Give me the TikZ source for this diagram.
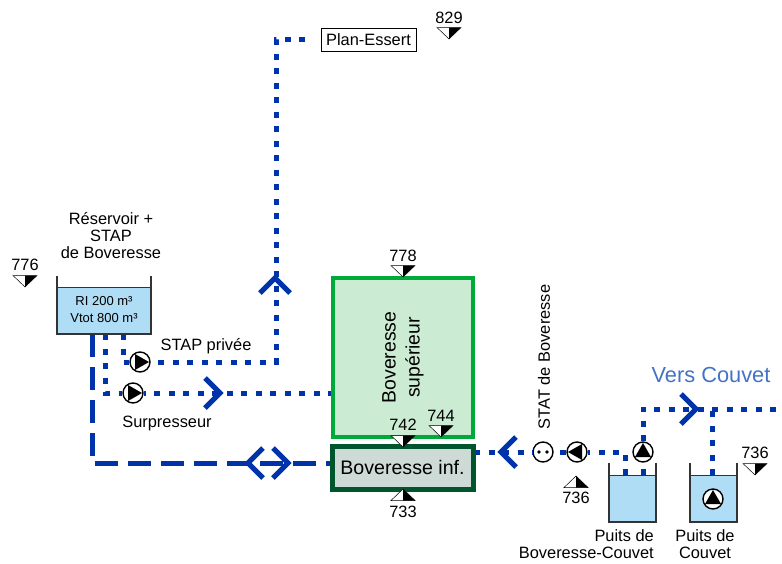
\documentclass[tikz,border=0pt]{standalone}
\usepackage{fontspec}
\setmainfont{Liberation Sans}
\usetikzlibrary{arrows.meta, positioning}
\definecolor{pipeblue}{HTML}{0033AA}
\definecolor{wellblue}{HTML}{AEDDF5}
\definecolor{supgreen}{HTML}{00AA3A}
\definecolor{supfill}{HTML}{CBEBD3}
\definecolor{infgreen}{HTML}{00552F}
\definecolor{inffill}{HTML}{CDDAD5}
\definecolor{versblue}{HTML}{4472C4}
\tikzset{
  textlabel/.style={font=\fontsize{16.4}{17}\selectfont, align=center, inner sep=0pt},
  dotpipe/.style={draw=pipeblue, line width=5pt, dash pattern=on 6pt off 8.5pt},
  dashpipe/.style={draw=pipeblue, line width=5pt, dash pattern=on 23pt off 10pt},
  chevronline/.style={draw=pipeblue, line width=5pt},
  wellline/.style={draw=black!80, line width=1.3pt},
  pumpnode/.style={circle, draw=black, line width=1.4pt, fill=white, minimum size=20pt, inner sep=0pt},
  pics/chevron/.style={code={\draw[chevronline] (-15pt,-15pt) -- (0pt,0pt) -- (-15pt,15pt);}},
  pics/levelmark/.style={code={
    \fill[white, draw=black, line width=.5pt] (-12pt,11.5pt) -- (12pt,11.5pt) -- (0pt,0pt) -- cycle;
    \fill[black] (0pt,11.5pt) -- (12pt,11.5pt) -- (0pt,0pt) -- cycle;}},
  pics/levelup/.style={code={
    \fill[white, draw=black, line width=.5pt] (-12pt,-11.5pt) -- (12pt,-11.5pt) -- (0pt,0pt) -- cycle;
    \fill[black] (0pt,-11.5pt) -- (12pt,-11.5pt) -- (0pt,0pt) -- cycle;}},
}
\begin{document}
\begin{tikzpicture}[x=1pt, y=-1pt]
  \useasboundingbox (0,0) rectangle (782,563);

  \coordinate (resMain) at (92,334);
  \coordinate (resBoost) at (105,334);
  \coordinate (resStap) at (123,334);
  \coordinate (wellA) at (625,475);
  \coordinate (wellB) at (643,475);
  \coordinate (wellC) at (712,475);
  \coordinate (couvetEnd) at (782,409);
  \coordinate (teeC) at (712,409);
  \coordinate (planEnd) at (305,39);
  \coordinate (planTurn) at (276,39);
  \coordinate (stapTurn) at (276,362);
  \coordinate (infIn) at (332,463);
  \coordinate (supIn) at (334,393);
  \coordinate (infOut) at (474,452);

  \node[pumpnode] (pumpStap) at (140,362) {};
  \node[pumpnode] (pumpBoost) at (133,393) {};
  \node[pumpnode] (pumpStat) at (577,452) {};
  \node[pumpnode] (pumpWellA) at (643,452) {};
  \node[pumpnode] (stat) at (543,452) {};

  % pipes
  \draw[dashpipe] (resMain) |- (infIn);
  \draw[dotpipe] (planEnd) -- (planTurn) -- (stapTurn) -- (pumpStap.east);
  \draw[dotpipe] (resStap) |- (pumpStap.west);
  \draw[dotpipe] (resBoost) |- (pumpBoost.west);
  \draw[dotpipe] (supIn) -- (pumpBoost.east);
  \draw[dotpipe] (infOut) -- (stat.west);
  \draw[dotpipe] (pumpStat.west) -- (stat.east);
  \draw[dotpipe] (wellA) |- (pumpStat.east);
  \draw[dotpipe] (wellB) -- (pumpWellA.south);
  \draw[dotpipe] (pumpWellA.north) |- (couvetEnd);
  \draw[dotpipe] (wellC) -- (teeC);

  % basins
  \node[draw=infgreen, line width=5pt, fill=inffill, minimum width=141pt, minimum height=43pt, font=\fontsize{19.6}{22}\selectfont] (inf) at (402.5,467.5) {Boveresse inf.};
  \node[draw=supgreen, line width=4.5pt, fill=supfill, minimum width=140pt, minimum height=159pt] (sup) at (403,357.5) {};
  \node[rotate=90, font=\fontsize{19.4}{24}\selectfont, align=center] (supText) at (sup.center) {Boveresse\\supérieur};
  \node[draw=black, line width=.9pt, minimum width=95pt, minimum height=23pt, font=\fontsize{16.4}{17}\selectfont, inner sep=0pt] (plan) at (368.5,39.5) {Plan-Essert};

  % reservoir and wells
  \fill[wellblue] (57,287) rectangle (151,334);
  \draw[wellline] (57,276) -- (57,334) -- (151,334) -- (151,276);
  \draw[line width=.8pt, black!80] (57,287) -- (151,287);
  \fill[wellblue] (609,475) rectangle (656,522);
  \draw[wellline] (609,463) -- (609,522) -- (656,522) -- (656,463);
  \draw[line width=.8pt, black!80] (609,475) -- (656,475);
  \fill[wellblue] (690,475) rectangle (737,522);
  \draw[wellline] (690,463) -- (690,522) -- (737,522) -- (737,463);
  \draw[line width=.8pt, black!80] (690,475) -- (737,475);

  \node[pumpnode] (pumpWellB) at (713,499) {};
  \foreach \pump/\ang in {pumpStap/0, pumpBoost/0, pumpStat/180, pumpWellA/90, pumpWellB/90}
    \fill[shift={(\pump.center)}, rotate=\ang] (9pt,0pt) -- (-5pt,8pt) -- (-5pt,-8pt) -- cycle;
  \fill (539,452) circle (1.8pt) (547,452) circle (1.8pt);

  % flow marks
  \pic at (220,393) {chevron};
  \pic[rotate=90] at (275,278) {chevron};
  \pic[rotate=180] at (248,463) {chevron};
  \pic at (288,463) {chevron};
  \pic[rotate=180] at (501,452) {chevron};
  \pic at (696,409) {chevron};

  % levels
  \pic at (449,39) {levelmark};
  \node[textlabel] (l829) at (449,18) {829};
  \pic at (25,287) {levelmark};
  \node[textlabel] (l776) at (25,265) {776};
  \pic at (403,277) {levelmark};
  \node[textlabel] (l778) at (403,256) {778};
  \pic at (403,447) {levelmark};
  \node[textlabel] (l742) at (403,425) {742};
  \pic at (441,437) {levelmark};
  \node[textlabel] (l744) at (441,416) {744};
  \pic at (403,489) {levelup};
  \node[textlabel] (l733) at (403,512) {733};
  \pic at (755,475) {levelmark};
  \node[textlabel] (l736a) at (755,453) {736};
  \pic at (576,476) {levelup};
  \node[textlabel] (l736b) at (576,498) {736};

  % labels
  \node[textlabel] (resName) at (111,236) {Réservoir +\\STAP\\de Boveresse};
  \node[font=\fontsize{13}{17}\selectfont, align=center, inner sep=0pt] (resText) at (104,310) {RI 200 m³\\Vtot 800 m³};
  \node[textlabel] (stapText) at (206,346) {STAP privée};
  \node[textlabel] (boostText) at (167,423) {Surpresseur};
  \node[textlabel, rotate=90] (statText) at (544,357) {STAT de Boveresse};
  \node[font=\fontsize{21.8}{24}\selectfont, text=versblue, inner sep=0pt] (vers) at (711,375) {Vers Couvet};
  \node[textlabel, align=right, anchor=east] (wellAText) at (654,544) {Puits de\\Boveresse-Couvet};
  \node[textlabel] (wellBText) at (705,544) {Puits de\\Couvet};
\end{tikzpicture}
\end{document}
